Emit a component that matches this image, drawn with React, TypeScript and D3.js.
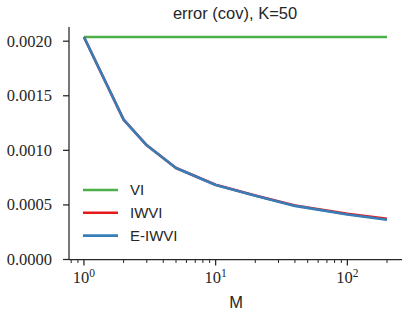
import React from "react";
import * as d3 from "d3";

const mValues = [1, 2, 3, 5, 10, 20, 40, 100, 200];
const viError = [0.002038, 0.002038, 0.002038, 0.002038, 0.002038, 0.002038, 0.002038, 0.002038, 0.002038];
const iwviError = [0.002038, 0.001282, 0.001046, 0.000838, 0.000685, 0.000587, 0.000494, 0.000418, 0.000372];
const eiwviError = [0.002038, 0.001282, 0.001046, 0.000838, 0.000683, 0.000585, 0.000491, 0.000413, 0.000364];
const seriesNames = ["VI", "IWVI", "E-IWVI"];
const seriesColors = ["#4daf4a", "#e41a1c", "#377eb8"];
const yTicks = [0, 0.0005, 0.001, 0.0015, 0.002];
const xMajor = [1, 10, 100];

const width = 415,
  height = 319;
const margin = { left: 69, right: 13, top: 27, bottom: 59.5 };

const serif = "'Liberation Serif'";
const sans = "'Liberation Sans'";

const App = () => {
  const x = d3.scaleLog().domain([0.77, 260]).range([margin.left, width - margin.right]);
  const y = d3.scaleLinear().domain([0, 0.00213]).range([height - margin.bottom, margin.top]);

  const line = d3
    .line<number>()
    .x((_, i) => x(mValues[i]))
    .y(d => y(d));

  const allSeries = [viError, iwviError, eiwviError];
  const bottom = height - margin.bottom;

  // minor ticks 2..9 per decade inside domain
  const minor: number[] = [];
  [0.1, 1, 10, 100].forEach(base => {
    for (let k = 2; k <= 9; k++) {
      const v = base * k;
      if (v >= 0.77 && v <= 260) minor.push(v);
    }
  });

  return (
    <svg width={width} height={height} style={{ position: "absolute", left: 0, top: 0, background: "white" }}>
      {/* lines */}
      {allSeries.map((s, i) => (
        <path key={i} d={line(s) || ""} fill="none" stroke={seriesColors[i]} strokeWidth={2.6} strokeLinejoin="round" />
      ))}

      {/* spines */}
      <line x1={margin.left} x2={margin.left} y1={margin.top} y2={bottom} stroke="#262626" strokeWidth={1.25} />
      <line x1={margin.left} x2={width - margin.right} y1={bottom} y2={bottom} stroke="#262626" strokeWidth={1.25} />

      {/* y ticks */}
      {yTicks.map(t => (
        <g key={t} transform={`translate(${margin.left},${y(t)})`}>
          <line x1={-6} x2={0} stroke="#262626" strokeWidth={1.25} />
          <text x={-17} dy="0.33em" textAnchor="end" style={{ fontFamily: serif, fontSize: 16.5 }} fill="#262626">
            {t.toFixed(4)}
          </text>
        </g>
      ))}

      {/* x ticks */}
      {xMajor.map((t, i) => (
        <g key={t} transform={`translate(${x(t)},${bottom})`}>
          <line y1={0} y2={6} stroke="#262626" strokeWidth={1.25} />
          <text y={23.5} textAnchor="middle" style={{ fontFamily: serif, fontSize: 16.5 }} fill="#262626">
            10
            <tspan dy={-6.5} style={{ fontSize: 11.5 }}>
              {i}
            </tspan>
          </text>
        </g>
      ))}
      {minor.map(t => (
        <line key={t} x1={x(t)} x2={x(t)} y1={bottom} y2={bottom + 3.5} stroke="#262626" strokeWidth={1} />
      ))}

      {/* labels */}
      <text x={235} y={19} textAnchor="middle" style={{ fontFamily: sans, fontSize: 16.5 }} fill="#262626">
        error (cov), K=50
      </text>
      <text x={236} y={308} textAnchor="middle" style={{ fontFamily: sans, fontSize: 16.5 }} fill="#262626">
        M
      </text>

      {/* legend */}
      {seriesNames.map((n, i) => (
        <g key={n} transform={`translate(83,${190 + i * 22.8})`}>
          <line x1={0} x2={35} stroke={seriesColors[i]} strokeWidth={2.6} />
          <text x={47} dy="0.36em" style={{ fontFamily: sans, fontSize: 15 }} fill="#262626">
            {n}
          </text>
        </g>
      ))}
    </svg>
  );
};

export default App;
